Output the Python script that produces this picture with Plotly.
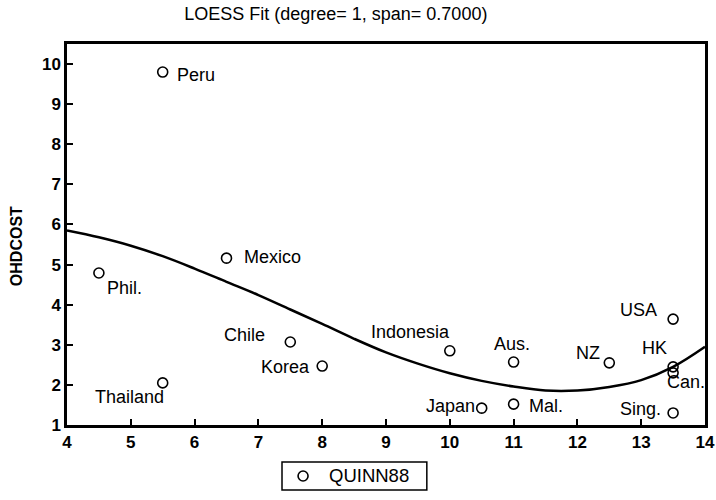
import plotly.graph_objects as go

# Overhead cost by country (QUINN88 data)
countries = ["Peru", "Phil.", "Thailand", "Mexico", "Chile", "Korea", "Indonesia",
             "Japan", "Aus.", "Mal.", "NZ", "USA", "HK", "Can.", "Sing."]
x_vals = [5.5, 4.5, 5.5, 6.5, 7.5, 8.0, 10.0, 10.5, 11.0, 11.0, 12.5, 13.5, 13.5, 13.5, 13.5]
ohdcost = [9.80, 4.79, 2.05, 5.16, 3.07, 2.47, 2.85, 1.42, 2.57, 1.52, 2.55, 3.64, 2.45, 2.30, 1.30]

# LOESS fit (degree 1, span 0.7) sampled along x
fit_x = [4.0, 4.5, 5.0, 5.5, 6.0, 6.5, 7.0, 7.5, 8.0, 8.5, 9.0, 9.5, 10.0,
         10.5, 11.0, 11.5, 12.0, 12.5, 13.0, 13.5, 14.0]
fit_y = [5.85, 5.68, 5.47, 5.21, 4.90, 4.57, 4.24, 3.88, 3.52, 3.15, 2.81, 2.53, 2.29,
         2.10, 1.96, 1.86, 1.86, 1.95, 2.12, 2.45, 2.95]

x_ticks = list(range(4, 15))
y_ticks = list(range(1, 11))
series_name = "QUINN88"

# label placement: (xanchor, xshift, yshift) per country
label_pos = {
    "Peru": ("left", 12, -3),
    "Phil.": ("left", 6, -15),
    "Thailand": ("right", 3, -14),
    "Mexico": ("left", 15, 1),
    "Chile": ("right", -23, 7),
    "Korea": ("right", -10, -1),
    "Indonesia": ("right", 2, 19),
    "Japan": ("right", -5, 2),
    "Aus.": ("center", -2, 18),
    "Mal.": ("left", 13, -2),
    "NZ": ("right", -7, 10),
    "USA": ("right", -14, 9),
    "HK": ("right", -4, 19),
    "Can.": ("left", -8, -9),
    "Sing.": ("right", -10, 4),
}

FONT = "Liberation Sans, Arial, sans-serif"

fig = go.Figure()
fig.add_trace(go.Scatter(
    x=fit_x, y=fit_y, mode="lines", line=dict(color="black", width=2.5, shape="spline"),
    showlegend=False, hoverinfo="skip"))
fig.add_trace(go.Scatter(
    x=x_vals, y=ohdcost, mode="markers", name=series_name, showlegend=False,
    marker=dict(symbol="circle-open", size=10, color="black", line=dict(width=1.6))))

for name, xv, yv in zip(countries, x_vals, ohdcost):
    anchor, dx, dy = label_pos[name]
    fig.add_annotation(x=xv, y=yv, xref="x", yref="y", text=name, showarrow=False,
                       xanchor=anchor, yanchor="middle", xshift=dx, yshift=dy,
                       font=dict(family=FONT, size=18, color="black"))

fig.add_annotation(x=-0.078, y=0.47, xref="paper", yref="paper", text="OHDCOST",
                   textangle=-90, showarrow=False, xanchor="center", yanchor="middle",
                   font=dict(family=FONT, size=16, color="black", weight="bold"))

# compact boxed key below the x axis
key_x0, key_x1 = 0.337, 0.564
key_y0, key_y1 = -0.1706, -0.0971
key_mid = (key_y0 + key_y1) / 2
fig.add_shape(type="rect", xref="paper", yref="paper", x0=key_x0, x1=key_x1,
              y0=key_y0, y1=key_y1, line=dict(color="black", width=1.5),
              fillcolor="white")
fig.add_shape(type="circle", xref="paper", yref="paper", xsizemode="pixel",
              ysizemode="pixel", xanchor=key_x0 + 0.033, yanchor=key_mid,
              x0=-5, x1=5, y0=-5, y1=5, line=dict(color="black", width=1.6))
fig.add_annotation(x=key_x0 + 0.0705, y=key_mid, xref="paper", yref="paper",
                   text=series_name, showarrow=False, xanchor="left", yanchor="middle",
                   font=dict(family=FONT, size=18.5, color="black"))

fig.update_layout(
    width=716, height=500,
    margin=dict(l=67, r=11, t=44, b=75, autoexpand=False),
    paper_bgcolor="white", plot_bgcolor="white",
    title=dict(text="LOESS Fit (degree= 1, span= 0.7000)", x=0.469, xanchor="center",
               y=0.972, yanchor="middle",
               font=dict(family=FONT, size=18, color="black")),
    showlegend=False,
    xaxis=dict(range=[4, 14], tickvals=x_ticks, ticktext=[str(v) for v in x_ticks],
               showgrid=False, zeroline=False, showline=True, linecolor="black",
               linewidth=2.5, mirror=True, ticks="inside", ticklen=6, tickwidth=1.5,
               tickcolor="black", automargin=False,
               tickfont=dict(family=FONT, size=17, color="black", weight="bold")),
    yaxis=dict(range=[1, 10.5], tickvals=y_ticks, ticktext=[str(v) for v in y_ticks],
               showgrid=False, zeroline=False, showline=True, linecolor="black",
               linewidth=2.5, mirror=True, ticks="inside", ticklen=6, tickwidth=1.5,
               tickcolor="black", automargin=False,
               tickfont=dict(family=FONT, size=17, color="black", weight="bold")),
)

fig.write_html("out.html")
